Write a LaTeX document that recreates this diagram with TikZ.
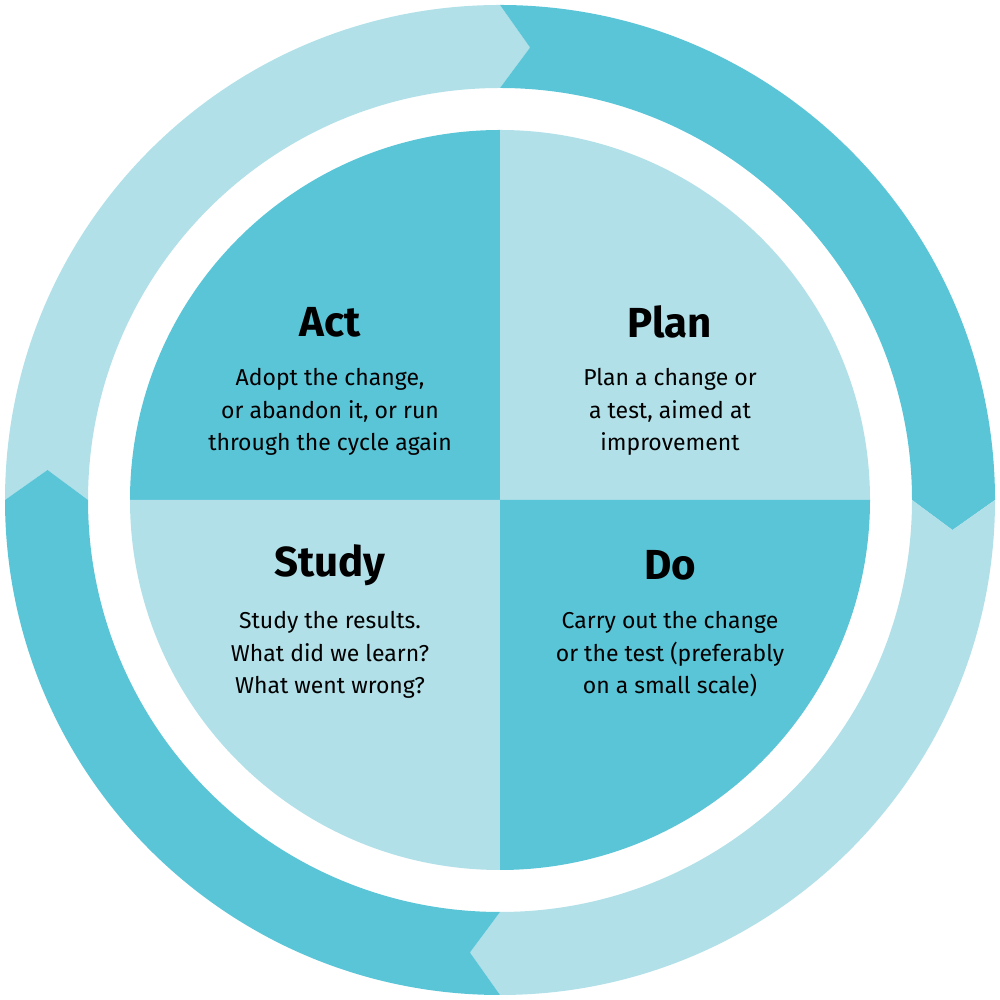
\documentclass[tikz,border=0pt]{standalone}
\usepackage{fontspec}
\setmainfont{Fira Sans}
\definecolor{dk}{HTML}{5BC5D8}
\definecolor{lt}{HTML}{B1E0E8}
\begin{document}
\begin{tikzpicture}[x=1pt,y=1pt,
  ttl/.style={font=\fontsize{42}{46}\selectfont\bfseries,anchor=center},
  bdy/.style={font=\fontsize{23}{32.5}\selectfont,align=center,anchor=north}]
\useasboundingbox (0,0) rectangle (1000,1000);
\begin{scope}[shift={(500,500)}]
\def\dl{3.8}
\foreach \a/\b/\c in {180/90/lt, 90/0/dk, 0/-90/lt, -90/-180/dk}{
  \pgfmathsetmacro\bt{\b-\dl}
  \pgfmathsetmacro\at{\a-\dl}
  \fill[\c] (\a:495) arc[start angle=\a,end angle=\b,radius=495] -- (\bt:453.5) -- (\b:412)
    arc[start angle=\b,end angle=\a,radius=412] -- (\at:453.5) -- cycle;
}
\fill[dk] (0,0) -- (90:370) arc[start angle=90,end angle=180,radius=370] -- cycle;
\fill[lt] (0,0) -- (0:370) arc[start angle=0,end angle=90,radius=370] -- cycle;
\fill[lt] (0,0) -- (180:370) arc[start angle=180,end angle=270,radius=370] -- cycle;
\fill[dk] (0,0) -- (270:370) arc[start angle=270,end angle=360,radius=370] -- cycle;
\end{scope}
\node[ttl] (act) at (330,678) {Act};
\node[bdy] (actb) at (330,635) {Adopt the change,\\or abandon it, or run\\through the cycle again};
\node[ttl] (plan) at (670,678) {Plan};
\node[bdy] (planb) at (670,635) {Plan a change or\\a test, aimed at\\improvement};
\node[ttl] (study) at (330,435) {Study};
\node[bdy] (studyb) at (330,392) {Study the results.\\What did we learn?\\What went wrong?};
\node[ttl] (do) at (670,435) {Do};
\node[bdy] (dob) at (670,392) {Carry out the change\\or the test (preferably\\on a small scale)};
\end{tikzpicture}
\end{document}
